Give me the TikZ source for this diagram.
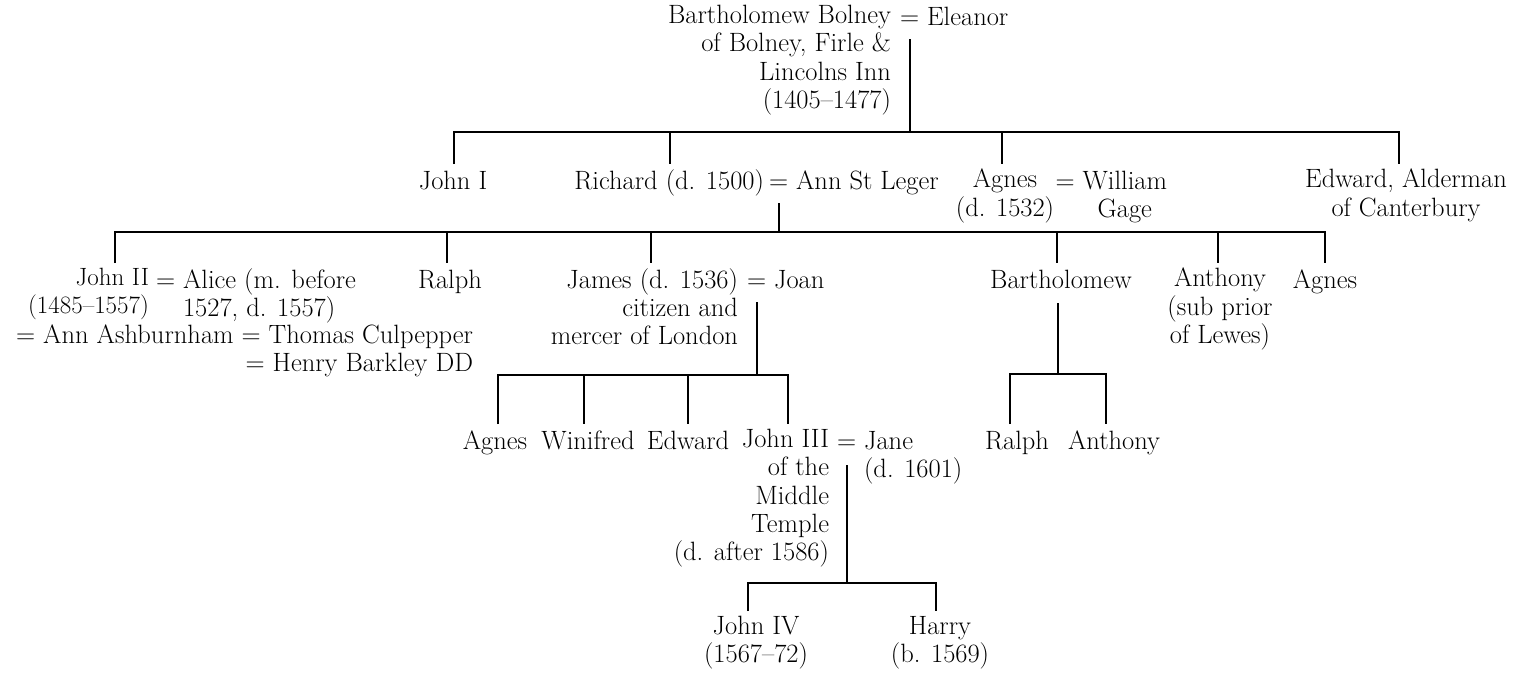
\documentclass[tikz,border=0pt]{standalone}
\usetikzlibrary{calc}
\setlength\parindent{0pt}
\begin{document}
\begin{tikzpicture}[x=1pt,y=-1pt,
  person/.style={inner sep=0pt, outer sep=0pt, font=\fontsize{26.5}{28.3}\selectfont,
    execute at begin node={\strut}},
  smallperson/.style={person, font=\fontsize{25}{28.3}\selectfont},
  tree/.style={line width=2.6pt, line join=miter}]
\useasboundingbox (0,0) rectangle (1530,674);

% ---------- generation 0
\node[person, anchor=north east, align=right] (BB) at (891,5.2)
  {Bartholomew Bolney\\of Bolney, Firle \&\hspace*{7pt}\\Lincolns Inn\\(1405–1477)};
\node[person, anchor=north west] (EL) at (900,5.2) {= Eleanor};

% ---------- generation 1
\node[person, anchor=north] (J1) at (453,169.2) {John I};
\node[person, anchor=north east] (RI) at (764,169.2) {Richard (d. 1500)};
\node[person, anchor=north west] (AN) at (769,169.2) {= Ann St Leger};
\node[person, anchor=north, align=center] (AG) at (1005,169.2) {Agnes\\(d. 1532)};
\node[person, anchor=north west] (WG) at (1055.5,169.2)
  {= \begin{tabular}[t]{@{}c@{}}William\\Gage\end{tabular}};
\node[person, anchor=north, align=center] (ED) at (1406,169.2) {Edward, Alderman\\of Canterbury};

% ---------- generation 2
\node[smallperson, anchor=north east, align=right] (J2) at (149,268.2) {John II\\(1485–1557)};
\node[person, anchor=north west] (AL) at (156,268.2)
  {= \begin{tabular}[t]{@{}l@{}}Alice (m. before\\1527, d. 1557)\end{tabular}};
\node[person, anchor=north east, align=right] (SP) at (473,324.8)
  {= Ann Ashburnham = Thomas Culpepper\\= Henry Barkley DD};
\node[person, anchor=north] (RA) at (450,268.2) {Ralph};
\node[person, anchor=north east, align=right] (JA) at (738,268.2)
  {James (d. 1536)\\citizen and\\mercer of London};
\node[person, anchor=north west] (JO) at (747,268.2) {= Joan};
\node[person, anchor=north] (BA) at (1061,268.2) {Bartholomew};
\node[person, anchor=north, align=center] (AT) at (1220,268.2) {Anthony\\(sub prior\\of Lewes)};
\node[person, anchor=north] (AS) at (1325,268.2) {Agnes};

% ---------- generation 3
\node[person, anchor=north] (AG3) at (495,429.2) {Agnes};
\node[person, anchor=north] (WI) at (588,429.2) {Winifred};
\node[person, anchor=north] (EW) at (688,429.2) {Edward};
\node[person, anchor=north east, align=right] (J3) at (829,429.2)
  {John III\\of the\\Middle\\Temple\\(d. after 1586)};
\node[person, anchor=north west] (JN) at (837,429.2)
  {= \begin{tabular}[t]{@{}l@{}}Jane\\(d. 1601)\end{tabular}};
\node[person, anchor=north] (RA3) at (1017,429.2) {Ralph};
\node[person, anchor=north] (AN3) at (1114,429.2) {Anthony};

% ---------- generation 4
\node[person, anchor=north, align=center] (J4) at (756,616.2) {John IV\\(1567–72)};
\node[person, anchor=north, align=center] (HA) at (940,616.2) {Harry\\(b. 1569)};

% ---------- junction points on the bars
\coordinate (am) at (910,132);
\coordinate (a1) at (454,132); \coordinate (a2) at (670,132);
\coordinate (a3) at (1002,132); \coordinate (a4) at (1399,132);
\coordinate (bm) at (779,232);
\coordinate (b1) at (115,232); \coordinate (b2) at (447,232); \coordinate (b3) at (651,232);
\coordinate (b4) at (1057,232); \coordinate (b5) at (1218,232); \coordinate (b6) at (1325,232);
\coordinate (cm) at (757,375);
\coordinate (c1) at (498,375); \coordinate (c2) at (584,375);
\coordinate (c3) at (688,375); \coordinate (c4) at (788,375);
\coordinate (dm) at (1058,374);
\coordinate (d1) at (1010,374); \coordinate (d2) at (1106,374);
\coordinate (em) at (847,583);
\coordinate (e1) at (748,583); \coordinate (e2) at (936,583);

% ---------- family 0
\draw[tree] ($(am |- EL.north)+(0,34)$) -- (am);
\draw[tree] ($(a1 |- J1.north)+(0,-5)$) -- (a1) -- (a4) -- ($(a4 |- ED.north)+(0,-5)$);
\draw[tree] (a2) -- ($(a2 |- RI.north)+(0,-5)$);
\draw[tree] (a3) -- ($(a3 |- AG.north)+(0,-5)$);

% ---------- family 1
\draw[tree] ($(bm |- AN.north)+(0,34)$) -- (bm);
\draw[tree] ($(b1 |- J2.north)+(0,-5)$) -- (b1) -- (b6) -- ($(b6 |- AS.north)+(0,-5)$);
\draw[tree] (b2) -- ($(b2 |- RA.north)+(0,-5)$);
\draw[tree] (b3) -- ($(b3 |- JA.north)+(0,-5)$);
\draw[tree] (b4) -- ($(b4 |- BA.north)+(0,-5)$);
\draw[tree] (b5) -- ($(b5 |- AT.north)+(0,-5)$);

% ---------- family 2 (James)
\draw[tree] ($(cm |- JO.north)+(0,34)$) -- (cm);
\draw[tree] ($(c1 |- AG3.north)+(0,-5)$) -- (c1) -- (c4) -- ($(c4 |- J3.north)+(0,-5)$);
\draw[tree] (c2) -- ($(c2 |- WI.north)+(0,-5)$);
\draw[tree] (c3) -- ($(c3 |- EW.north)+(0,-5)$);

% ---------- family 3 (Bartholomew)
\draw[tree] ($(dm |- BA.north)+(0,35)$) -- (dm);
\draw[tree] ($(d1 |- RA3.north)+(0,-5)$) -- (d1) -- (d2) -- ($(d2 |- AN3.north)+(0,-5)$);

% ---------- family 4 (John III)
\draw[tree] ($(em |- JN.north)+(0,36)$) -- (em);
\draw[tree] ($(e1 |- J4.north)+(0,-5)$) -- (e1) -- (e2) -- ($(e2 |- HA.north)+(0,-5)$);
\end{tikzpicture}
\end{document}
